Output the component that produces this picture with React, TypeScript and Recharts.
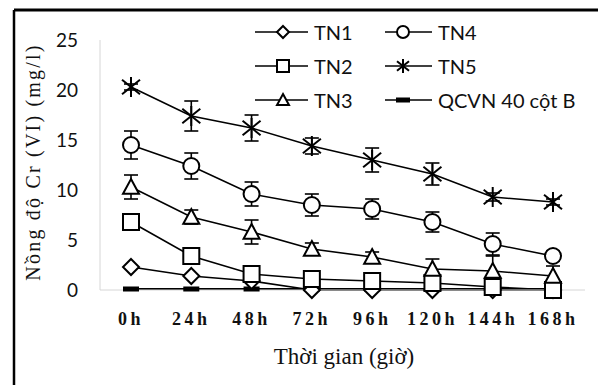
import { CartesianGrid, ErrorBar, Line, LineChart, XAxis, YAxis } from "recharts";

const hours = ["0h", "24h", "48h", "72h", "96h", "120h", "144h", "168h"];
const tn1 = [2.3, 1.4, 0.9, 0, 0, 0, 0, 0];
const tn2 = [6.8, 3.4, 1.6, 1.1, 0.9, 0.7, 0.3, 0];
const tn3 = [10.3, 7.3, 5.8, 4.1, 3.3, 2.1, 1.9, 1.4];
const tn3Err = [1.2, 0.7, 1.2, 0.6, 0.5, 1.0, 1.5, 1.0];
const tn4 = [14.5, 12.4, 9.6, 8.5, 8.1, 6.8, 4.6, 3.4];
const tn4Err = [1.4, 1.3, 1.2, 1.1, 1.0, 1.0, 1.1, 0.5];
const tn5 = [20.3, 17.4, 16.2, 14.4, 13.0, 11.6, 9.3, 8.8];
const tn5Err = [0.3, 1.5, 1.3, 0.8, 1.2, 1.1, 0.4, 0.3];
const qcvn = [0.1, 0.1, 0.1, 0.1, 0.1, 0.1, 0.1, 0.1];
const yTicks = [0, 5, 10, 15, 20, 25];

const data = hours.map((h, i) => ({
  h,
  tn1: tn1[i],
  tn2: tn2[i],
  tn3: tn3[i],
  tn3Err: tn3Err[i],
  tn4: tn4[i],
  tn4Err: tn4Err[i],
  tn5: tn5[i],
  tn5Err: tn5Err[i],
  qcvn: qcvn[i],
}));

type Shape = "diamond" | "square" | "triangle" | "circle" | "star" | "bar";

// marker glyphs, s = half size
const marker = (shape: Shape, cx: number, cy: number, s: number, key?: string) => {
  const common = { fill: "#fff", stroke: "#000", strokeWidth: 2 };
  switch (shape) {
    case "diamond":
      return (
        <polygon key={key} {...common}
          points={`${cx},${cy - s} ${cx + s},${cy} ${cx},${cy + s} ${cx - s},${cy}`} />
      );
    case "square":
      return <rect key={key} {...common} x={cx - s} y={cy - s} width={2 * s} height={2 * s} />;
    case "triangle":
      return (
        <polygon key={key} {...common}
          points={`${cx},${cy - s} ${cx + s},${cy + s * 0.85} ${cx - s},${cy + s * 0.85}`} />
      );
    case "circle":
      return <circle key={key} {...common} cx={cx} cy={cy} r={s} />;
    case "star":
      return (
        <g key={key} stroke="#000" strokeWidth={2}>
          <line x1={cx} y1={cy - s - 1} x2={cx} y2={cy + s + 1} />
          <line x1={cx - s} y1={cy - s * 0.8} x2={cx + s} y2={cy + s * 0.8} />
          <line x1={cx - s} y1={cy + s * 0.8} x2={cx + s} y2={cy - s * 0.8} />
        </g>
      );
    default:
      return <rect key={key} x={cx - s} y={cy - 2.5} width={2 * s} height={5} fill="#000" />;
  }
};

const dot = (shape: Shape, s: number) => (p: any) =>
  marker(shape, p.cx, p.cy, s, `${shape}-${p.index}`);

const legendItems: { name: string; shape: Shape; x: number; y: number }[] = [
  { name: "TN1", shape: "diamond", x: 0, y: 0 },
  { name: "TN2", shape: "square", x: 0, y: 1 },
  { name: "TN3", shape: "triangle", x: 0, y: 2 },
  { name: "TN4", shape: "circle", x: 1, y: 0 },
  { name: "TN5", shape: "star", x: 1, y: 1 },
  { name: "QCVN 40 cột B", shape: "bar", x: 1, y: 2 },
];

const serif = "'Liberation Serif', 'Times New Roman', serif";
const sans = "Lato, 'Open Sans', sans-serif";

export default function App() {
  return (
    <div style={{ position: "absolute", left: 0, top: 0, width: 598, height: 385, background: "#fff" }}>
      <LineChart width={598} height={385} data={data} margin={{ top: 40, right: 13, bottom: 0, left: 0 }}>
        <CartesianGrid stroke="none" />
        <XAxis
          dataKey="h"
          height={95}
          padding={{ left: 31, right: 32 }}
          axisLine={{ stroke: "#d6d6d6" }}
          tickLine={false}
          tickSize={0}
          tickMargin={22}
          interval={0}
          tick={{ fontFamily: serif, fontWeight: 700, fontSize: 18, fill: "#111", letterSpacing: 3.5 }}
        />
        <YAxis
          width={100}
          domain={[0, 25]}
          ticks={yTicks}
          axisLine={{ stroke: "#d6d6d6" }}
          tickLine={false}
          tickSize={0}
          tickMargin={22}
          tick={{ fontFamily: sans, fontSize: 19, fill: "#111" }}
        />
        <Line dataKey="qcvn" stroke="#000" strokeWidth={2} dot={dot("bar", 8)} isAnimationActive={false} />
        <Line dataKey="tn1" stroke="#000" strokeWidth={1.6} dot={dot("diamond", 8)} isAnimationActive={false} />
        <Line dataKey="tn2" stroke="#000" strokeWidth={1.6} dot={dot("square", 8)} isAnimationActive={false} />
        <Line dataKey="tn3" stroke="#000" strokeWidth={1.6} dot={dot("triangle", 8)} isAnimationActive={false}>
          <ErrorBar dataKey="tn3Err" width={7} stroke="#000" strokeWidth={1.6} direction="y" />
        </Line>
        <Line dataKey="tn4" stroke="#000" strokeWidth={1.6} dot={dot("circle", 8)} isAnimationActive={false}>
          <ErrorBar dataKey="tn4Err" width={7} stroke="#000" strokeWidth={1.6} direction="y" />
        </Line>
        <Line dataKey="tn5" stroke="#000" strokeWidth={1.6} dot={dot("star", 9)} isAnimationActive={false}>
          <ErrorBar dataKey="tn5Err" width={7} stroke="#000" strokeWidth={1.6} direction="y" />
        </Line>
      </LineChart>
      <svg width={598} height={385} style={{ position: "absolute", left: 0, top: 0, pointerEvents: "none" }}>
        <line x1={14} y1={10} x2={598} y2={10} stroke="#000" strokeWidth={3} />
        <line x1={14} y1={10} x2={14} y2={385} stroke="#000" strokeWidth={2.5} />
        <text
          x={33}
          y={162}
          transform="rotate(-90 33 162)"
          textAnchor="middle"
          dominantBaseline="central"
          fontFamily={serif}
          fontSize={20}
          letterSpacing={2.2}
          fill="#111"
        >
          Nồng độ Cr (VI) (mg/l)
        </text>
        <text x={344} y={364} textAnchor="middle" fontFamily={serif} fontSize={23} fill="#111">
          Thời gian (giờ)
        </text>
        {legendItems.map((it) => {
          const x0 = it.x === 0 ? 255 : 385;
          const x1 = it.x === 0 ? 308 : 432;
          const y = 32 + it.y * 34;
          const mx = it.x === 0 ? 283 : 403;
          return (
            <g key={it.name}>
              <line x1={x0} y1={y} x2={x1} y2={y} stroke="#000" strokeWidth={1.6} />
              {marker(it.shape, mx, y, it.shape === "bar" ? 7 : 6)}
              <text x={x1 + 6} y={y} dominantBaseline="central" fontFamily={sans} fontSize={20} fill="#111">
                {it.name}
              </text>
            </g>
          );
        })}
      </svg>
    </div>
  );
}
